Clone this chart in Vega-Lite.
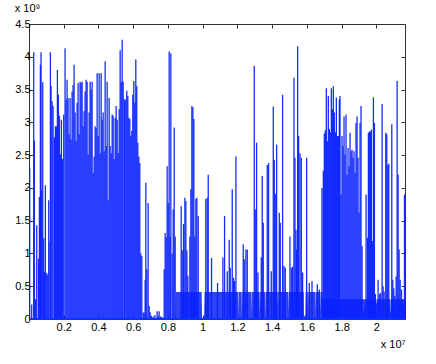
{
  "$schema": "https://vega.github.io/schema/vega-lite/v6.json",
  "width": 376,
  "height": 295,
  "autosize": "none",
  "padding": {"left": 29, "top": 24, "right": 31, "bottom": 45},
  "background": "white",
  "config": {
    "view": {"stroke": "#333", "strokeWidth": 1},
    "font": "Liberation Sans",
    "axis": {
      "labelFont": "Liberation Sans",
      "labelFontSize": 11,
      "labelColor": "#000",
      "tickColor": "#333",
      "tickSize": -4,
      "domain": false,
      "grid": false,
      "titleFont": "Liberation Sans",
      "titleFontWeight": "normal",
      "titleFontSize": 11,
      "titleColor": "#000"
    }
  },
  "title": {"text": "x 10⁹", "anchor": "start", "fontSize": 11, "fontWeight": "normal", "font": "Liberation Sans", "color": "#000", "offset": 4},
  "datasets": {
    "floor": [
      {"x": 0.842, "y": 0}, {"x": 0.845, "y": 0.41}, {"x": 0.994, "y": 0.41}, {"x": 0.997, "y": 0},
      {"x": 1.008, "y": 0}, {"x": 1.011, "y": 0.41}, {"x": 1.205, "y": 0.41}, {"x": 1.2065, "y": 0.05},
      {"x": 1.208, "y": 0.41}, {"x": 1.2245, "y": 0.41}, {"x": 1.226, "y": 0.05}, {"x": 1.2275, "y": 0.41},
      {"x": 1.278, "y": 0.41}, {"x": 1.2795, "y": 0.1}, {"x": 1.281, "y": 0.41}, {"x": 1.328, "y": 0.41},
      {"x": 1.3295, "y": 0.08}, {"x": 1.331, "y": 0.41}, {"x": 1.359, "y": 0.41}, {"x": 1.3605, "y": 0.05},
      {"x": 1.362, "y": 0.41}, {"x": 1.432, "y": 0.41}, {"x": 1.4335, "y": 0.15}, {"x": 1.435, "y": 0.41},
      {"x": 1.4935, "y": 0.41}, {"x": 1.495, "y": 0.1}, {"x": 1.4965, "y": 0.41}, {"x": 1.582, "y": 0.41},
      {"x": 1.5835, "y": 0.05}, {"x": 1.591, "y": 0.05}, {"x": 1.5925, "y": 0.41}, {"x": 1.605, "y": 0.41},
      {"x": 1.6065, "y": 0.1}, {"x": 1.608, "y": 0.41}, {"x": 1.647, "y": 0.41}, {"x": 1.6485, "y": 0.08},
      {"x": 1.65, "y": 0.41}, {"x": 1.678, "y": 0.41}, {"x": 1.6795, "y": 0.1}, {"x": 1.681, "y": 0.41},
      {"x": 1.69, "y": 0.41}, {"x": 1.692, "y": 0.3}, {"x": 2.0, "y": 0.3}, {"x": 2.0015, "y": 0.05},
      {"x": 2.003, "y": 0.3}, {"x": 2.078, "y": 0.3}, {"x": 2.0795, "y": 0.05}, {"x": 2.081, "y": 0.3},
      {"x": 2.165, "y": 0.3}
    ],
    "bars": [
      {"x": 0.002, "y": 2.31}, {"x": 0.004, "y": 2.31}, {"x": 0.0156, "y": 0.22}, {"x": 0.0271, "y": 4.07},
      {"x": 0.0309, "y": 2.72}, {"x": 0.0367, "y": 0.3}, {"x": 0.0444, "y": 1.43}, {"x": 0.054, "y": 0.92},
      {"x": 0.0598, "y": 1.86}, {"x": 0.0655, "y": 3.88}, {"x": 0.0693, "y": 4.07}, {"x": 0.0732, "y": 1.96},
      {"x": 0.079, "y": 3.61}, {"x": 0.0847, "y": 1.23}, {"x": 0.0886, "y": 0.72}, {"x": 0.0943, "y": 2.04},
      {"x": 0.102, "y": 0.7}, {"x": 0.1078, "y": 0.67}, {"x": 0.1135, "y": 1.81}, {"x": 0.1212, "y": 1.18},
      {"x": 0.1232, "y": 4.07}, {"x": 0.127, "y": 3.55}, {"x": 0.1328, "y": 3.32}, {"x": 0.1385, "y": 3.25},
      {"x": 0.1462, "y": 2.77}, {"x": 0.152, "y": 2.94}, {"x": 0.1578, "y": 2.94}, {"x": 0.1635, "y": 3.8},
      {"x": 0.1693, "y": 3.42}, {"x": 0.1751, "y": 3.1}, {"x": 0.1808, "y": 2.51}, {"x": 0.1866, "y": 3.04},
      {"x": 0.1924, "y": 2.44}, {"x": 0.2, "y": 3.12}, {"x": 0.2077, "y": 4.13}, {"x": 0.2135, "y": 3.35},
      {"x": 0.2193, "y": 3.65}, {"x": 0.225, "y": 3.37}, {"x": 0.2308, "y": 2.82}, {"x": 0.2366, "y": 3.37},
      {"x": 0.2423, "y": 2.74}, {"x": 0.2481, "y": 3.47}, {"x": 0.2539, "y": 3.57}, {"x": 0.2596, "y": 3.88},
      {"x": 0.2654, "y": 3.15}, {"x": 0.2712, "y": 2.72}, {"x": 0.2769, "y": 3.3}, {"x": 0.2827, "y": 3.6},
      {"x": 0.2885, "y": 2.82}, {"x": 0.2942, "y": 3.62}, {"x": 0.3, "y": 3.6}, {"x": 0.3058, "y": 3.62},
      {"x": 0.3115, "y": 2.94}, {"x": 0.3173, "y": 3.17}, {"x": 0.3231, "y": 3.47}, {"x": 0.3288, "y": 3.65},
      {"x": 0.3346, "y": 3.62}, {"x": 0.3404, "y": 2.51}, {"x": 0.3461, "y": 3.15}, {"x": 0.3519, "y": 3.62},
      {"x": 0.3577, "y": 3.5}, {"x": 0.3634, "y": 3.62}, {"x": 0.3692, "y": 2.23}, {"x": 0.375, "y": 2.48},
      {"x": 0.3807, "y": 2.94}, {"x": 0.3865, "y": 2.91}, {"x": 0.3923, "y": 3.75}, {"x": 0.3981, "y": 2.79},
      {"x": 0.4038, "y": 3.75}, {"x": 0.4096, "y": 2.53}, {"x": 0.4153, "y": 3.75}, {"x": 0.4211, "y": 3.04},
      {"x": 0.4269, "y": 3.15}, {"x": 0.4326, "y": 2.56}, {"x": 0.4384, "y": 3.93}, {"x": 0.4442, "y": 2.64},
      {"x": 0.4499, "y": 3.62}, {"x": 0.4557, "y": 1.81}, {"x": 0.4615, "y": 3.37}, {"x": 0.4672, "y": 2.64},
      {"x": 0.473, "y": 2.53}, {"x": 0.4788, "y": 3.12}, {"x": 0.4845, "y": 3.1}, {"x": 0.4903, "y": 2.44},
      {"x": 0.4961, "y": 3.07}, {"x": 0.5019, "y": 3.25}, {"x": 0.5076, "y": 3.04}, {"x": 0.5134, "y": 2.53},
      {"x": 0.5192, "y": 3.2}, {"x": 0.5249, "y": 4.1}, {"x": 0.5307, "y": 3.62}, {"x": 0.5365, "y": 4.26},
      {"x": 0.5422, "y": 3.62}, {"x": 0.55, "y": 3.35}, {"x": 0.5573, "y": 3.35}, {"x": 0.5631, "y": 3.48},
      {"x": 0.5689, "y": 3.4}, {"x": 0.5746, "y": 3.07}, {"x": 0.5804, "y": 3.05}, {"x": 0.5862, "y": 2.79},
      {"x": 0.5919, "y": 2.87}, {"x": 0.5977, "y": 3.42}, {"x": 0.6035, "y": 3.63}, {"x": 0.6092, "y": 3.3},
      {"x": 0.615, "y": 3.96}, {"x": 0.6207, "y": 3.55}, {"x": 0.6265, "y": 2.69}, {"x": 0.6323, "y": 2.48},
      {"x": 0.638, "y": 2.38}, {"x": 0.6438, "y": 1.0}, {"x": 0.6496, "y": 0.96}, {"x": 0.6573, "y": 0.1},
      {"x": 0.663, "y": 0.1}, {"x": 0.6688, "y": 0.6}, {"x": 0.6727, "y": 2.08}, {"x": 0.6784, "y": 0.76},
      {"x": 0.6861, "y": 1.77}, {"x": 0.6919, "y": 0.2}, {"x": 0.6977, "y": 0.1}, {"x": 0.705, "y": 0.05},
      {"x": 0.715, "y": 0.04}, {"x": 0.725, "y": 0.06}, {"x": 0.738, "y": 0.12}, {"x": 0.744, "y": 0.05},
      {"x": 0.7493, "y": 0.12}, {"x": 0.758, "y": 0.04}, {"x": 0.766, "y": 0.03}, {"x": 0.7783, "y": 0.76},
      {"x": 0.7841, "y": 1.31}, {"x": 0.7898, "y": 1.25}, {"x": 0.7956, "y": 2.33}, {"x": 0.8014, "y": 1.77},
      {"x": 0.8071, "y": 4.08}, {"x": 0.8129, "y": 1.25}, {"x": 0.8167, "y": 4.05}, {"x": 0.8244, "y": 1.0},
      {"x": 0.8302, "y": 1.67}, {"x": 0.836, "y": 2.92}, {"x": 0.8417, "y": 1.26}, {"x": 0.8763, "y": 1.72},
      {"x": 0.8821, "y": 1.05}, {"x": 0.8898, "y": 1.45}, {"x": 0.8974, "y": 1.85}, {"x": 0.9032, "y": 1.8},
      {"x": 0.909, "y": 1.05}, {"x": 0.9147, "y": 0.66}, {"x": 0.9263, "y": 1.26}, {"x": 0.932, "y": 1.98},
      {"x": 0.9378, "y": 3.25}, {"x": 0.9436, "y": 3.23}, {"x": 0.9493, "y": 3.05}, {"x": 0.9551, "y": 1.26},
      {"x": 0.9608, "y": 1.83}, {"x": 0.9666, "y": 1.85}, {"x": 0.9743, "y": 1.57}, {"x": 1.018, "y": 1.83},
      {"x": 1.0262, "y": 1.85}, {"x": 1.032, "y": 2.2}, {"x": 1.051, "y": 0.93}, {"x": 1.0857, "y": 0.55},
      {"x": 1.1164, "y": 0.94}, {"x": 1.1261, "y": 1.57}, {"x": 1.1414, "y": 0.73}, {"x": 1.1529, "y": 1.21},
      {"x": 1.1587, "y": 0.78}, {"x": 1.1702, "y": 1.98}, {"x": 1.1779, "y": 0.63}, {"x": 1.1837, "y": 0.58},
      {"x": 1.1914, "y": 2.48}, {"x": 1.2336, "y": 1.14}, {"x": 1.2394, "y": 0.91}, {"x": 1.249, "y": 1.06},
      {"x": 1.2567, "y": 1.06}, {"x": 1.297, "y": 3.86}, {"x": 1.3028, "y": 1.67}, {"x": 1.3105, "y": 2.69},
      {"x": 1.3182, "y": 0.71}, {"x": 1.3374, "y": 0.94}, {"x": 1.3431, "y": 2.18}, {"x": 1.3489, "y": 1.47},
      {"x": 1.3719, "y": 2.35}, {"x": 1.3796, "y": 2.38}, {"x": 1.395, "y": 0.73}, {"x": 1.4065, "y": 3.24},
      {"x": 1.4123, "y": 2.43}, {"x": 1.418, "y": 1.91}, {"x": 1.4258, "y": 2.66}, {"x": 1.4411, "y": 1.62},
      {"x": 1.4469, "y": 1.47}, {"x": 1.4603, "y": 3.42}, {"x": 1.468, "y": 0.81}, {"x": 1.4757, "y": 0.78},
      {"x": 1.5026, "y": 1.26}, {"x": 1.5103, "y": 0.78}, {"x": 1.518, "y": 0.8}, {"x": 1.5256, "y": 3.68},
      {"x": 1.5314, "y": 2.46}, {"x": 1.5372, "y": 1.36}, {"x": 1.541, "y": 1.06}, {"x": 1.5468, "y": 4.16},
      {"x": 1.5526, "y": 2.79}, {"x": 1.5602, "y": 2.53}, {"x": 1.5679, "y": 2.46}, {"x": 1.5756, "y": 0.71},
      {"x": 1.5987, "y": 2.46}, {"x": 1.614, "y": 0.55}, {"x": 1.6294, "y": 0.58}, {"x": 1.6601, "y": 0.53},
      {"x": 1.6716, "y": 0.45}, {"x": 1.687, "y": 2.0}, {"x": 1.6947, "y": 2.26}, {"x": 1.7004, "y": 2.83},
      {"x": 1.7062, "y": 2.88}, {"x": 1.712, "y": 3.52}, {"x": 1.7177, "y": 2.71}, {"x": 1.7235, "y": 3.4},
      {"x": 1.7293, "y": 2.9}, {"x": 1.735, "y": 2.85}, {"x": 1.7408, "y": 3.52}, {"x": 1.7466, "y": 3.2},
      {"x": 1.7524, "y": 3.55}, {"x": 1.7581, "y": 3.15}, {"x": 1.7639, "y": 2.85}, {"x": 1.7697, "y": 3.38},
      {"x": 1.7754, "y": 2.79}, {"x": 1.7812, "y": 2.79}, {"x": 1.787, "y": 3.35}, {"x": 1.7908, "y": 3.4},
      {"x": 1.7966, "y": 1.9}, {"x": 1.8023, "y": 2.79}, {"x": 1.8081, "y": 2.64}, {"x": 1.8139, "y": 3.09},
      {"x": 1.8196, "y": 2.51}, {"x": 1.8254, "y": 3.12}, {"x": 1.8312, "y": 2.2}, {"x": 1.8369, "y": 2.61},
      {"x": 1.8427, "y": 2.33}, {"x": 1.8485, "y": 2.84}, {"x": 1.8543, "y": 2.56}, {"x": 1.86, "y": 2.58},
      {"x": 1.8658, "y": 2.46}, {"x": 1.8716, "y": 2.56}, {"x": 1.8773, "y": 2.23}, {"x": 1.8831, "y": 2.99},
      {"x": 1.8889, "y": 3.09}, {"x": 1.8946, "y": 2.46}, {"x": 1.9004, "y": 1.62}, {"x": 1.9062, "y": 2.99},
      {"x": 1.9119, "y": 3.25}, {"x": 1.9177, "y": 1.11}, {"x": 1.9254, "y": 0.1}, {"x": 1.9331, "y": 0.2},
      {"x": 1.9408, "y": 1.9}, {"x": 1.9485, "y": 1.24}, {"x": 1.9542, "y": 2.84}, {"x": 1.96, "y": 2.86},
      {"x": 1.9658, "y": 2.86}, {"x": 1.9716, "y": 2.89}, {"x": 1.9773, "y": 1.19}, {"x": 1.9831, "y": 3.38},
      {"x": 1.9889, "y": 2.99}, {"x": 1.9946, "y": 0.38}, {"x": 2.0023, "y": 0.24}, {"x": 2.01, "y": 0.6},
      {"x": 2.0177, "y": 0.38}, {"x": 2.0254, "y": 0.4}, {"x": 2.0331, "y": 3.28}, {"x": 2.0389, "y": 0.5},
      {"x": 2.0447, "y": 0.42}, {"x": 2.0543, "y": 2.84}, {"x": 2.06, "y": 2.82}, {"x": 2.0658, "y": 2.35},
      {"x": 2.0716, "y": 2.37}, {"x": 2.0793, "y": 0.1}, {"x": 2.0889, "y": 2.97}, {"x": 2.0947, "y": 0.6},
      {"x": 2.1004, "y": 0.47}, {"x": 2.1062, "y": 0.35}, {"x": 2.1139, "y": 0.65}, {"x": 2.1197, "y": 3.63},
      {"x": 2.1254, "y": 2.2}, {"x": 2.1312, "y": 1.06}, {"x": 2.137, "y": 0.6}, {"x": 2.1447, "y": 0.45},
      {"x": 2.1504, "y": 0.3}, {"x": 2.1562, "y": 0.22}, {"x": 2.162, "y": 1.9}
    ]
  },
  "layer": [
    {
      "data": {"name": "floor"},
      "mark": {"type": "area", "color": "#2f43f2", "clip": true},
      "encoding": {
        "x": {"field": "x", "type": "quantitative", "scale": {"domain": [0, 2.165], "nice": false, "zero": false},
              "axis": {"orient": "bottom", "values": [0.2, 0.4, 0.6, 0.8, 1, 1.2, 1.4, 1.6, 1.8, 2], "format": "~g", "labelPadding": 6, "title": "x 10⁷", "titleAnchor": "end", "titlePadding": 6}},
        "y": {"field": "y", "type": "quantitative", "scale": {"domain": [0, 4.5], "nice": false},
              "axis": {"orient": "left", "values": [0, 0.5, 1, 1.5, 2, 2.5, 3, 3.5, 4, 4.5], "format": "~g", "labelPadding": 3, "title": null}}
      }
    },
    {
      "data": {"name": "bars"},
      "mark": {"type": "rule", "color": "#0a22ff", "strokeWidth": 1.3, "opacity": 0.95, "clip": true},
      "encoding": {
        "x": {"field": "x", "type": "quantitative", "axis": null},
        "y": {"field": "y", "type": "quantitative", "axis": null},
        "y2": {"datum": 0}
      }
    },
    {
      "data": {"name": "floor"},
      "mark": {"type": "point", "opacity": 0},
      "encoding": {
        "x": {"field": "x", "type": "quantitative",
              "axis": {"orient": "top", "values": [0.2, 0.4, 0.6, 0.8, 1, 1.2, 1.4, 1.6, 1.8, 2], "labels": false, "title": null}},
        "y": {"field": "y", "type": "quantitative",
              "axis": {"orient": "right", "values": [0, 0.5, 1, 1.5, 2, 2.5, 3, 3.5, 4, 4.5], "labels": false, "title": null}}
      }
    },
    {
      "data": {"values": [{"b": 0}]},
      "mark": {"type": "rule", "color": "#1030ff", "strokeWidth": 2},
      "encoding": {"y": {"field": "b", "type": "quantitative", "axis": null}}
    }
  ],
  "resolve": {"axis": {"x": "independent", "y": "independent"}}
}
